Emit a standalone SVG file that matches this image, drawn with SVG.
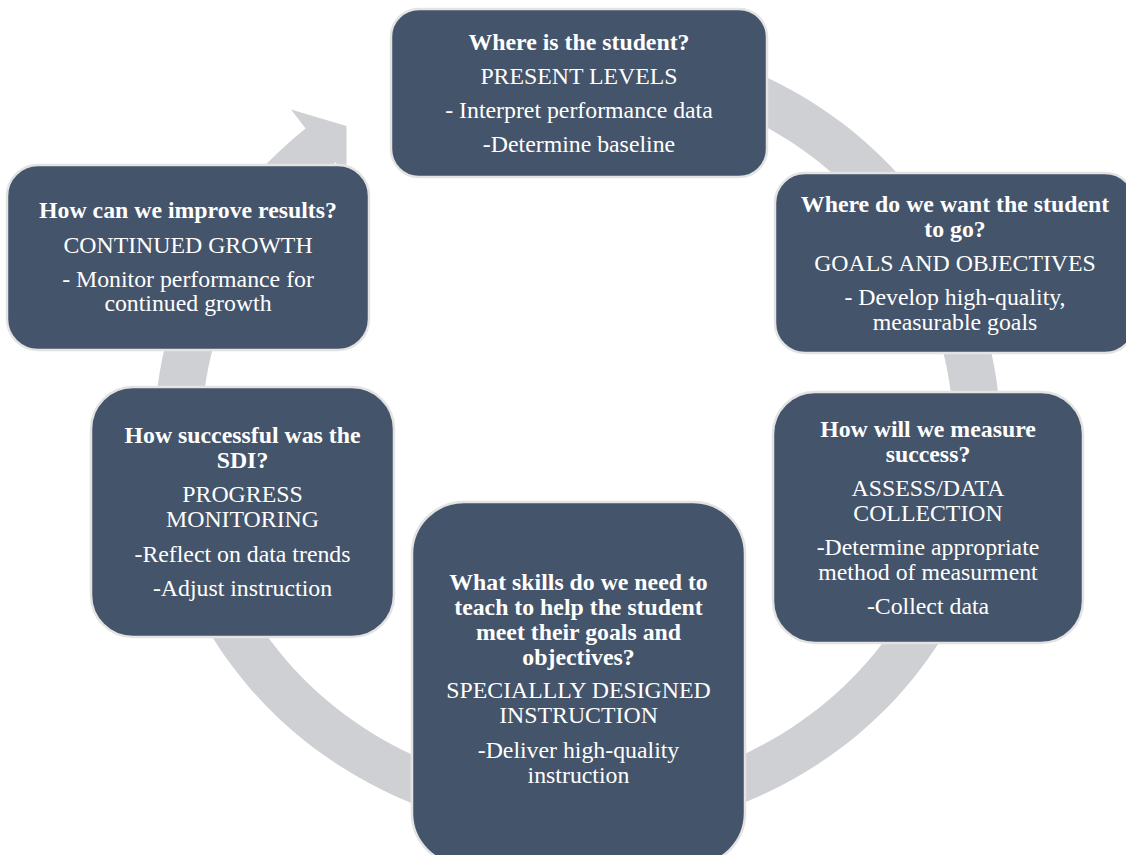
<svg xmlns="http://www.w3.org/2000/svg" width="1126" height="855" viewBox="0 0 1126 855">
  <style>
    .box { fill: #44546a; stroke: #e3e3e3; stroke-width: 2.5; }
    .ring { fill: #cfd0d4; stroke: none; }
    text { font-family: "Liberation Serif", "Times New Roman", serif; font-size: 23.8px; fill: #ffffff; text-anchor: middle; }
    .b { font-weight: bold; }
  </style>
  <rect width="1126" height="855" fill="#ffffff"/>

  <!-- circular arrow behind the steps: elliptical band with arrowhead at upper left -->
  <g id="connectors">
    <path class="ring" d="M 420 63.8 A 423 400 0 1 1 305.6 128.6 L 291 109.5 L 346.5 126 L 346.5 185 L 335.8 162.3 A 376 356 0 1 0 437.5 104.6 Z"/>
  </g>

  <g id="node-present-levels">
    <rect class="box" x="391" y="9" width="376" height="168" rx="28"/>
    <text x="579" y="50" class="b">Where is the student?</text>
    <text x="579" y="84">PRESENT LEVELS</text>
    <text x="579" y="118">- Interpret performance data</text>
    <text x="579" y="152">-Determine baseline</text>
  </g>

  <g id="node-goals">
    <rect class="box" x="775" y="173" width="360" height="180" rx="30"/>
    <text x="955" y="212" class="b">Where do we want the student</text>
    <text x="955" y="237" class="b">to go?</text>
    <text x="955" y="271">GOALS AND OBJECTIVES</text>
    <text x="955" y="305">- Develop high-quality,</text>
    <text x="955" y="330">measurable goals</text>
  </g>

  <g id="node-assess">
    <rect class="box" x="773" y="392" width="310" height="251" rx="42"/>
    <text x="928" y="437" class="b">How will we measure</text>
    <text x="928" y="462" class="b">success?</text>
    <text x="928" y="496">ASSESS/DATA</text>
    <text x="928" y="521">COLLECTION</text>
    <text x="928" y="555">-Determine appropriate</text>
    <text x="928" y="580">method of measurment</text>
    <text x="928" y="614">-Collect data</text>
  </g>

  <g id="node-sdi">
    <rect class="box" x="412" y="502" width="333" height="363" rx="52"/>
    <text x="578.5" y="590" class="b">What skills do we need to</text>
    <text x="578.5" y="615" class="b">teach to help the student</text>
    <text x="578.5" y="640" class="b">meet their goals and</text>
    <text x="578.5" y="665" class="b">objectives?</text>
    <text x="578.5" y="698">SPECIALLLY DESIGNED</text>
    <text x="578.5" y="723">INSTRUCTION</text>
    <text x="578.5" y="758">-Deliver high-quality</text>
    <text x="578.5" y="783">instruction</text>
  </g>

  <g id="node-progress">
    <rect class="box" x="91" y="387" width="303" height="250" rx="42"/>
    <text x="242.5" y="443" class="b">How successful was the</text>
    <text x="242.5" y="468" class="b">SDI?</text>
    <text x="242.5" y="502">PROGRESS</text>
    <text x="242.5" y="527">MONITORING</text>
    <text x="242.5" y="562">-Reflect on data trends</text>
    <text x="242.5" y="596">-Adjust instruction</text>
  </g>

  <g id="node-growth">
    <rect class="box" x="7" y="165" width="362" height="185" rx="31"/>
    <text x="188" y="218" class="b">How can we improve results?</text>
    <text x="188" y="253">CONTINUED GROWTH</text>
    <text x="188" y="287">- Monitor performance for</text>
    <text x="188" y="311">continued growth</text>
  </g>
</svg>
